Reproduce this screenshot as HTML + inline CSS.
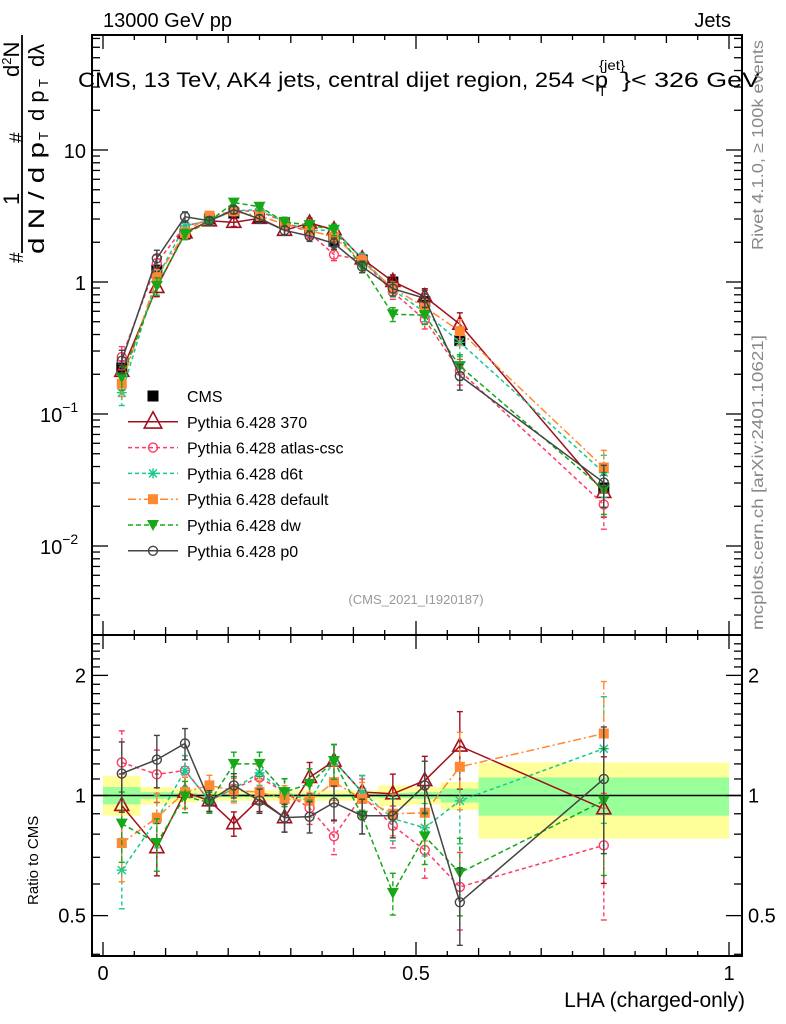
<!DOCTYPE html>
<html><head><meta charset="utf-8"><style>
html,body{margin:0;padding:0;background:#fff}
svg{display:block;font-family:"Liberation Sans",Arial,sans-serif}
</style></head><body>
<svg id="c" width="786" height="1024" viewBox="0 0 786 1024" xmlns="http://www.w3.org/2000/svg">
<text x="103" y="27" font-size="20">13000 GeV pp</text>
<text x="731" y="27" font-size="20" text-anchor="end">Jets</text>
<g>
<text x="78" y="87" font-size="21" textLength="530" lengthAdjust="spacingAndGlyphs">CMS, 13 TeV, AK4 jets, central dijet region, 254 &lt;p</text>
<text x="598" y="96" font-size="14">T</text>
<text x="599" y="70" font-size="14" textLength="26" lengthAdjust="spacingAndGlyphs">{jet}</text>
<text x="622" y="87" font-size="21" textLength="138" lengthAdjust="spacingAndGlyphs">}&lt; 326 GeV</text>
</g>
<text transform="translate(763,250) rotate(-90)" font-size="16" fill="#888" textLength="210" lengthAdjust="spacingAndGlyphs">Rivet 4.1.0, ≥ 100k events</text>
<text transform="translate(763,630) rotate(-90)" font-size="16" fill="#888" textLength="295" lengthAdjust="spacingAndGlyphs">mcplots.cern.ch [arXiv:2401.10621]</text>
<text x="416" y="604" font-size="13" fill="#999" text-anchor="middle">(CMS_2021_I1920187)</text>
<g transform="translate(0,263) rotate(-90)" font-size="22">
<text x="0" y="23" font-size="19">#</text>
<text x="58" y="19">1</text>
<line x1="10" y1="22" x2="228" y2="22" stroke="#000" stroke-width="1.8"/>
<text x="9" y="44" textLength="112" lengthAdjust="spacingAndGlyphs">d N / d p</text>
<text x="123" y="48" font-size="13">T</text>
<text x="120" y="23" font-size="19">#</text>
<text x="186" y="19">d<tspan font-size="13" dy="-8">2</tspan><tspan dy="8">N</tspan></text>
<text x="142" y="44">d p</text>
<text x="176" y="48" font-size="13">T</text>
<text x="196" y="44">dλ</text>
</g>
<text transform="translate(38,905) rotate(-90)" font-size="15">Ratio to CMS</text>
<text x="745" y="1007" font-size="21" text-anchor="end">LHA (charged-only)</text>
<g id="g"></g>
</svg>
<script>
const xCenters=[0.030,0.086,0.131,0.170,0.209,0.250,0.290,0.330,0.369,0.414,0.463,0.514,0.570,0.800];
const binEdges=[0,0.06,0.11,0.15,0.19,0.23,0.27,0.31,0.35,0.39,0.44,0.49,0.54,0.60,1.0];
const cmsValues=[0.223,1.23,2.31,3.0,3.33,3.1,2.8,2.52,2.04,1.47,1.0,0.71,0.36,0.0275];
const statUp=[1.05,1.02,1.015,1.01,1.01,1.01,1.01,1.01,1.01,1.01,1.015,1.02,1.04,1.11];
const statDn=[0.95,0.98,0.985,0.99,0.99,0.99,0.99,0.99,0.99,0.99,0.985,0.98,0.96,0.89];
const totUp=[1.12,1.05,1.04,1.03,1.03,1.03,1.03,1.03,1.03,1.03,1.06,1.05,1.08,1.21];
const totDn=[0.89,0.95,0.96,0.97,0.97,0.97,0.97,0.97,0.97,0.97,0.94,0.95,0.92,0.78];
const ratio370=[0.944,0.74,1.02,0.97,0.85,0.98,0.88,1.11,1.22,1.02,1.01,1.09,1.33,0.926];
const ratioAtlas=[1.21,1.13,1.155,0.97,1.04,1.11,1.02,0.93,0.79,1.0,0.84,0.73,0.59,0.75];
const ratioD6t=[0.65,0.87,1.155,0.97,1.04,1.14,1.02,0.97,1.22,1.02,0.875,0.83,0.97,1.31];
const ratioDefault=[0.76,0.88,1.02,1.06,1.03,1.02,0.98,0.97,1.08,0.98,0.9,0.905,1.18,1.43];
const ratioDw=[0.85,0.76,0.995,0.96,1.2,1.2,1.02,1.07,1.22,0.89,0.57,0.79,0.64,0.97];
const ratioP0=[1.135,1.23,1.35,0.97,1.06,0.97,0.88,0.885,0.96,0.89,0.89,1.06,0.54,1.10];
const mcErr=[0.2,0.15,0.09,0.06,0.07,0.07,0.08,0.09,0.1,0.1,0.12,0.15,0.22,0.35];
const series=[
 {name:'Pythia 6.428 370',r:ratio370,c:'#a0101e',dash:'',m:'tri',key:'p370'},
 {name:'Pythia 6.428 atlas-csc',r:ratioAtlas,c:'#ff3b64',dash:'4,3',m:'circ',key:'atlas-csc'},
 {name:'Pythia 6.428 d6t',r:ratioD6t,c:'#16c98f',dash:'4,3',m:'star',key:'d6t'},
 {name:'Pythia 6.428 default',r:ratioDefault,c:'#ff8833',dash:'8,3,2,3',m:'sq',key:'default'},
 {name:'Pythia 6.428 dw',r:ratioDw,c:'#16a816',dash:'5,3',m:'tdn',key:'dw'},
 {name:'Pythia 6.428 p0',r:ratioP0,c:'#444444',dash:'',m:'circ',key:'p0'}];
const NS='http://www.w3.org/2000/svg';const G=document.getElementById('g');
function el(t,a,p){const e=document.createElementNS(NS,t);for(const k in a)e.setAttribute(k,a[k]);(p||G).appendChild(e);return e;}
const L=92,R=742,T1=35,B1=635,B2=956;
const X=v=>103+626*v;
const Ym=v=>282-132*Math.log10(v);
const Yr=v=>795.5-399*Math.log10(v);
for(let i=0;i<cmsValues.length;i++){
 const x1=X(binEdges[i]),x2=X(binEdges[i+1]);
 const b=el('rect',{x:x1,y:Yr(totUp[i]),width:x2-x1,height:Yr(totDn[i])-Yr(totUp[i]),fill:'#ffff99'});
 
 
 const s=el('rect',{x:x1,y:Yr(statUp[i]),width:x2-x1,height:Yr(statDn[i])-Yr(statUp[i]),fill:'#99ff99'});
 
 
}
el('line',{x1:L,x2:R,y1:Yr(1),y2:Yr(1),stroke:'#000','stroke-width':1.5});
for(const [t,b] of [[T1,B1],[B1,B2]]){const f=el('rect',{x:L,y:t,width:R-L,height:b-t,fill:'none',stroke:'#000','stroke-width':2});

}
for(let k=0;k<=20;k++){const v=k/20,x=X(v);const len=k%10==0?14:(k%2==0?8:5);
 for(const y of [T1,B1]){el('line',{x1:x,x2:x,y1:y,y2:y+len,stroke:'#000','stroke-width':1.3});}
 for(const y of [B1,B2]){el('line',{x1:x,x2:x,y1:y,y2:y-len,stroke:'#000','stroke-width':1.3});}}
[['0',0],['0.5',0.5],['1',1]].forEach(([s,v])=>{const t=el('text',{x:X(v),y:980,'font-size':20,'text-anchor':'middle'});t.textContent=s;

});
for(let d=-3;d<=1;d++)for(let m=1;m<10;m++){const v=m*Math.pow(10,d),y=Ym(v);if(y<T1||y>B1)continue;const len=m==1?16:8;
 el('line',{x1:L,x2:L+len,y1:y,y2:y,stroke:'#000','stroke-width':1.3});el('line',{x1:R,x2:R-len,y1:y,y2:y,stroke:'#000','stroke-width':1.3});}
[['10',10],['1',1]].forEach(([s,v])=>{const t=el('text',{x:86,y:Ym(v)+8,'font-size':20,'text-anchor':'end'});t.textContent=s;

});
[['−1',0.1],['−2',0.01]].forEach(([s,v])=>{const t=el('text',{x:40,y:Ym(v)+8,'font-size':20});t.innerHTML='10<tspan font-size="14" dy="-10">'+s+'</tspan>';

});
for(let v=0.4;v<=2.5;v+=0.1){const y=Yr(v);if(y<B1||y>B2)continue;const mj=[0.5,1,2].some(q=>Math.abs(q-v)<1e-6);const len=mj?16:8;
 el('line',{x1:L,x2:L+len,y1:y,y2:y,stroke:'#000','stroke-width':1.3});el('line',{x1:R,x2:R-len,y1:y,y2:y,stroke:'#000','stroke-width':1.3});}
[['2',2],['1',1],['0.5',0.5]].forEach(([s,v])=>{const a=el('text',{x:86,y:Yr(v)+7,'font-size':20,'text-anchor':'end'});a.textContent=s;


const b=el('text',{x:748,y:Yr(v)+7,'font-size':20});b.textContent=s;

});
function marker(m,x,y,c,p,big){const k=big?1.25:1;
 if(m=='tri')el('path',{d:`M${x},${y-8*k}L${x+7*k},${y+5*k}L${x-7*k},${y+5*k}Z`,fill:'#fff','fill-opacity':0,stroke:c,'stroke-width':1.6},p);
 else if(m=='tdn')el('path',{d:`M${x-6},${y-5}L${x+6},${y-5}L${x},${y+6}Z`,fill:c},p);
 else if(m=='circ')el('circle',{cx:x,cy:y,r:4.5,fill:'none',stroke:c,'stroke-width':1.4},p);
 else if(m=='sq')el('rect',{x:x-5,y:y-5,width:10,height:10,fill:c},p);
 else if(m=='star'){el('path',{d:`M${x-5},${y}H${x+5}M${x},${y-5}V${y+5}M${x-4},${y-4}L${x+4},${y+4}M${x-4},${y+4}L${x+4},${y-4}`,stroke:c,'stroke-width':1.4},p);}
 else if(m=='bsq')el('rect',{x:x-5.5,y:y-5.5,width:11,height:11,fill:c},p);
}
function drawSeries(s,main){
 const gg=el('g',{});
 
 
 const pts=s.r.map((r,i)=>[X(xCenters[i]),main?Ym(cmsValues[i]*r):Yr(r)]);
 el('polyline',{points:pts.map(p=>p.join(',')).join(' '),fill:'none',stroke:s.c,'stroke-width':1.5,'stroke-dasharray':s.dash},gg);
 s.r.forEach((r,i)=>{const v=main?cmsValues[i]*r:r;const F=main?Ym:Yr;const x=pts[i][0];
  const y1=F(v*(1+mcErr[i])),y2=F(Math.max(v*(1-mcErr[i]),1e-4));
  el('line',{x1:x,x2:x,y1:y1,y2:y2,stroke:s.c,'stroke-width':1.4,'stroke-dasharray':s.dash},gg);
  el('line',{x1:x-3,x2:x+3,y1:y1,y2:y1,stroke:s.c,'stroke-width':1.4},gg);
  el('line',{x1:x-3,x2:x+3,y1:y2,y2:y2,stroke:s.c,'stroke-width':1.4},gg);
  marker(s.m,x,pts[i][1],s.c,gg);});
}
const cg=el('g',{});


cmsValues.forEach((v,i)=>{const x=X(xCenters[i]),y=Ym(v);
 el('line',{x1:x,x2:x,y1:Ym(v*totUp[i]),y2:Ym(v*totDn[i]),stroke:'#000','stroke-width':1.5},cg);
 marker('bsq',x,y,'#000',cg);});
series.forEach(s=>drawSeries(s,true));
series.forEach(s=>drawSeries(s,false));
const lg=el('g',{});


const rows=[{name:'CMS',m:'bsq',c:'#000',dash:null}].concat(series);
rows.forEach((s,i)=>{const y=396+i*25.8;
 const e=el('g',{},lg);
 
 
 if(s.dash!==null){el('line',{x1:128,x2:178,y1:y,y2:y,stroke:s.c,'stroke-width':1.5,'stroke-dasharray':s.dash},e);}
 marker(s.m,153,y,s.c,e,s.m=='tri');
 const t=el('text',{x:187,y:y+6,'font-size':16},e);t.textContent=s.name;});
</script>
</body></html>
